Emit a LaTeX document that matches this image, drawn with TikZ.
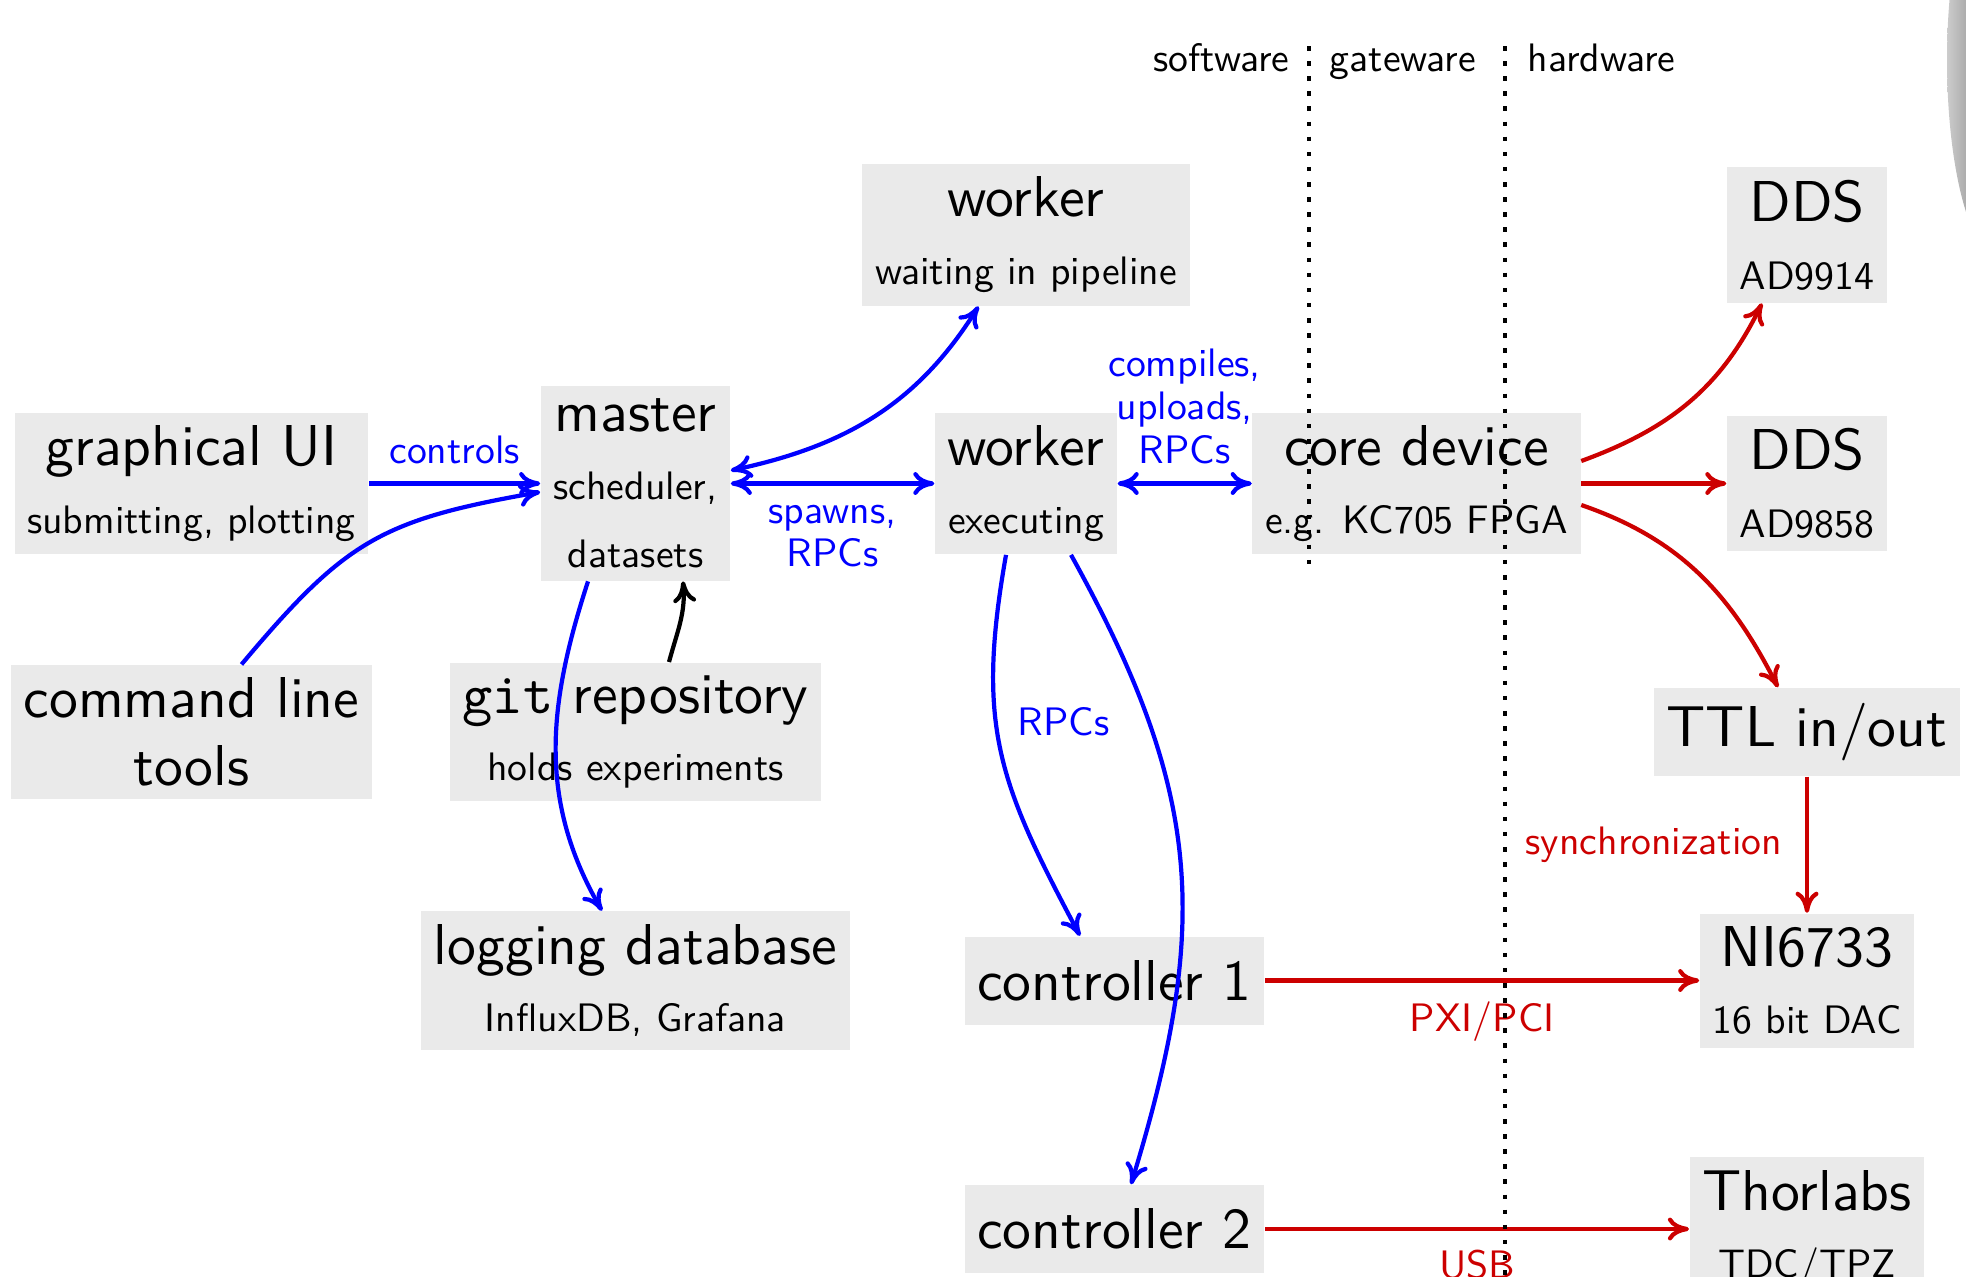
\documentclass[tikz,border=0pt]{standalone}
\usepackage{fontspec}
\setsansfont{lmsans10-regular.otf}
\setmonofont{lmmono10-regular.otf}
\renewcommand{\familydefault}{\sfdefault}
\usepackage{xcolor}
\usetikzlibrary{arrows.meta, positioning}

\definecolor{boxgray}{RGB}{234,234,234}
\definecolor{hwred}{RGB}{204,0,0}
\newcommand{\bigtext}{\fontsize{16.4}{19.3}\selectfont}
\newcommand{\smalltext}{\fontsize{11.3}{19.3}\selectfont}
\newcommand{\lbltext}{\fontsize{11.3}{12.4}\selectfont}

\begin{document}
\begin{tikzpicture}[
    node distance=2.485cm and 3.905cm,
    on grid,
    >={To[length=6pt,width=6.5pt]},
    box/.style={
        rectangle,
        fill=boxgray,
        inner sep=3.6pt,
        minimum height=0.88cm,
        align=center,
        font=\bigtext
    },
    lbl/.style={
        font=\lbltext,
        align=center,
        inner sep=0pt
    },
    swarrow/.style={->, line width=1.2pt, blue},
    swboth/.style={<->, line width=1.2pt, blue},
    hwarrow/.style={->, line width=1.2pt, hwred},
    divider/.style={line width=1.3pt, dash pattern=on 1.3pt off 3pt}
]
    \useasboundingbox (0,0) rectangle (19.66,-12.76);
    \clip (0,0) rectangle (19.66,-12.76);

    % shadow at the right edge
    \shade[left color=gray!40, right color=black!90] (20.0,-0.6) ellipse [x radius=0.53, y radius=1.98];

    % software
    \node[box] (gui) at (1.915,-4.835) {graphical UI\\{\smalltext submitting, plotting}};
    \node[box, below=of gui] (cli) {command line\\tools};
    \node[box, right=4.44cm of gui] (master) {master\\{\smalltext scheduler,}\\{\smalltext datasets}};
    \node[box, below=of master] (git) {\texttt{git} repository\\{\smalltext holds experiments}};
    \node[box, below=of git] (logdb) {logging database\\{\smalltext InfluxDB, Grafana}};
    \node[box, right=of master] (wexec) {worker\\{\smalltext executing}};
    \node[box, above=of wexec] (wwait) {worker\\{\smalltext waiting in pipeline}};
    \node[box, right=4.79cm of logdb] (ctrl1) {controller 1};
    \node[box, below=of ctrl1] (ctrl2) {controller 2};

    % gateware and hardware
    \node[box, right=of wexec] (core) {core device\\{\smalltext e.g. KC705 FPGA}};
    \node[box, right=of core] (dds2) {DDS\\{\smalltext AD9858}};
    \node[box, above=of dds2] (dds1) {DDS\\{\smalltext AD9914}};
    \node[box, below=of dds2] (ttl) {TTL in/out};
    \node[box, below=of ttl] (ni) {NI6733\\{\smalltext 16 bit DAC}};
    \node[box, below=of ni] (thor) {Thorlabs\\{\smalltext TDC/TPZ}};

    % software connections
    \draw[swarrow] (gui) -- node[lbl, above=5pt] {controls} (master);
    \draw[swarrow] ([xshift=0.5cm]cli.north) to[out=50, in=190, looseness=1.2] ([yshift=-0.085cm]master.west);
    \draw[swboth] (master) -- node[lbl, below=5.5pt] {spawns,\\RPCs} (wexec);
    \draw[swboth] ([yshift=0.13cm]master.east) to[out=12, in=238] ([xshift=-0.475cm]wwait.south);
    \draw[swboth] (wexec) -- node[lbl, above=5pt] {compiles,\\uploads,\\RPCs} (core);
    \draw[swarrow] ([xshift=-0.2cm]wexec.south) to[out=260, in=118, looseness=1.15] ([xshift=-0.345cm]ctrl1.north);
    \draw[swarrow] ([xshift=0.45cm]wexec.south) to[out=-61, in=73, looseness=1.1] ([xshift=0.165cm]ctrl2.north);
    \node[lbl, text=blue] (rpclbl) at (10.635,-7.22) {RPCs};
    \draw[swarrow] ([xshift=-0.475cm]master.south) to[out=252, in=120] ([xshift=-0.335cm]logdb.north);
    \draw[->, line width=1.2pt] ([xshift=0.335cm]git.north) to[out=75, in=275] ([xshift=0.475cm]master.south);

    % hardware connections
    \draw[hwarrow] ([yshift=0.225cm]core.east) to[out=20, in=244] ([xshift=-0.45cm]dds1.south);
    \draw[hwarrow] (core) -- (dds2);
    \draw[hwarrow] ([yshift=-0.215cm]core.east) to[out=-19, in=117] ([xshift=-0.29cm]ttl.north);
    \draw[hwarrow] (ttl) -- node[lbl, left=6.5pt] {synchronization} (ni);
    \draw[hwarrow] (ctrl1) -- node[lbl, below=5.5pt] {PXI/PCI} (ni);
    \draw[hwarrow] (ctrl2) -- node[lbl, below=5.5pt] {USB} (thor);

    % layer borders
    \coordinate (sgtop) at (13.09,-0.46);
    \coordinate (sgbot) at (13.09,-5.72);
    \coordinate (ghtop) at (15.05,-0.46);
    \coordinate (ghbot) at (15.05,-12.9);
    \draw[divider] (sgtop) -- (sgbot);
    \draw[divider] (ghtop) -- (ghbot);
    \node[lbl, anchor=base east] (swlbl) at (12.90,-0.715) {software};
    \node[lbl, anchor=base] (gwlbl) at (14.03,-0.715) {gateware};
    \node[lbl, anchor=base west] (hwlbl) at (15.27,-0.715) {hardware};
\end{tikzpicture}
\end{document}
